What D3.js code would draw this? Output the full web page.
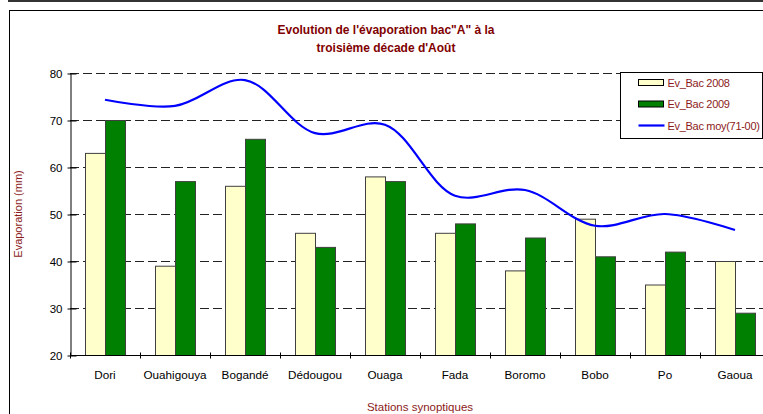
<!DOCTYPE html>
<html>
<head>
<meta charset="utf-8">
<script src="https://cdn.jsdelivr.net/npm/d3@7"></script>
<style>
  body { margin: 0; background: #fff; }
  svg { display: block; font-family: "Liberation Sans", Arial, sans-serif; }
</style>
</head>
<body>
<script>
var stations = ["Dori", "Ouahigouya", "Bogandé", "Dédougou", "Ouaga", "Fada", "Boromo", "Bobo", "Po", "Gaoua"];
var bac2008 = [63, 39, 56, 46, 58, 46, 38, 49, 35, 40];
var bac2009 = [70, 57, 66, 43, 57, 48, 45, 41, 42, 29];
var moy7100 = [74.3, 73.0, 78.5, 67.2, 69.0, 53.9, 55.1, 47.5, 50.0, 46.6];
var yTicks = [20, 30, 40, 50, 60, 70, 80];

var width = 763, height = 414;
var red = "#8b1a1a";

var svg = d3.select("body").append("svg")
    .attr("width", width)
    .attr("height", height);

// bande sombre en haut + cadre du graphique
svg.append("rect").attr("x", 8).attr("y", 0).attr("width", 755).attr("height", 2).attr("fill", "#333");
svg.append("rect").attr("x", 9.5).attr("y", 10.5).attr("width", 800).attr("height", 450)
    .attr("fill", "none").attr("stroke", "#000").attr("stroke-width", 1);

var x = d3.scaleBand()
    .domain(stations)
    .range([70, 770])
    .paddingInner(3 / 7)
    .paddingOuter(1.5 / 7);

var xs = d3.scaleBand().domain(["2008", "2009"]).range([0, x.bandwidth()]);

var y = d3.scaleLinear()
    .domain([20, 80])
    .range([355, 73]);

// grille pointillée
svg.append("g").selectAll("line")
    .data(yTicks.filter(function(d) { return d > 20; }))
    .enter().append("line")
    .attr("x1", 70).attr("x2", 770)
    .attr("y1", function(d) { return y(d) + 0.5; })
    .attr("y2", function(d) { return y(d) + 0.5; })
    .attr("stroke", "#222")
    .attr("stroke-dasharray", "9,4");

// barres
var series = [
  { key: "2008", values: bac2008, fill: "#ffffcc" },
  { key: "2009", values: bac2009, fill: "#008000" }
];
series.forEach(function(s) {
  svg.append("g").selectAll("rect")
      .data(s.values)
      .enter().append("rect")
      .attr("x", function(d, i) { return x(stations[i]) + xs(s.key) + 0.5; })
      .attr("y", function(d) { return y(d) + 0.5; })
      .attr("width", xs.bandwidth())
      .attr("height", function(d) { return y(20) - y(d); })
      .attr("fill", s.fill)
      .attr("stroke", "#404040")
      .attr("stroke-width", 1);
});

// axe Y
var yAxis = d3.axisLeft(y).tickValues(yTicks).tickSize(0).tickPadding(8);
var gy = svg.append("g").attr("transform", "translate(70.5,0.5)").call(yAxis);
gy.select(".domain").attr("stroke", "#000");
gy.selectAll(".tick line").attr("x1", -3).attr("x2", 6).attr("stroke", "#000");
gy.selectAll("text").attr("font-size", 11.5).attr("fill", "#000").attr("font-family", "Liberation Sans, Arial, sans-serif");

// axe X
var gx = svg.append("g").attr("transform", "translate(0,355.5)");
gx.append("line").attr("x1", 70).attr("x2", 770).attr("stroke", "#000");
gx.selectAll(".tk")
    .data(d3.range(stations.length + 1))
    .enter().append("line")
    .attr("x1", function(i) { return 70.5 + i * x.step(); })
    .attr("x2", function(i) { return 70.5 + i * x.step(); })
    .attr("y1", -3).attr("y2", 3)
    .attr("stroke", "#000");
gx.selectAll("text")
    .data(stations)
    .enter().append("text")
    .attr("x", function(d) { return x(d) + x.bandwidth() / 2; })
    .attr("y", 23)
    .attr("text-anchor", "middle")
    .attr("font-size", 11.7)
    .attr("fill", "#000")
    .text(function(d) { return d; });

// courbe moyenne 71-00
var line = d3.line()
    .x(function(d, i) { return x(stations[i]) + x.bandwidth() / 2; })
    .y(function(d) { return y(d); })
    .curve(d3.curveCatmullRom.alpha(0.5));

svg.append("path")
    .attr("d", line(moy7100))
    .attr("fill", "none")
    .attr("stroke", "#0000ff")
    .attr("stroke-width", 2.2);

// titres
svg.append("text").attr("x", 386).attr("y", 34)
    .attr("text-anchor", "middle").attr("font-size", 12).attr("font-weight", "bold").attr("fill", "#800000")
    .text("Evolution de l'évaporation bac\"A\" à la");
svg.append("text").attr("x", 386).attr("y", 52)
    .attr("text-anchor", "middle").attr("font-size", 12).attr("font-weight", "bold").attr("fill", "#800000")
    .text("troisième décade d'Août");

svg.append("text")
    .attr("transform", "translate(22,214) rotate(-90)")
    .attr("text-anchor", "middle").attr("font-size", 11).attr("fill", red)
    .text("Evaporation (mm)");

svg.append("text").attr("x", 420).attr("y", 411)
    .attr("text-anchor", "middle").attr("font-size", 11.5).attr("fill", red)
    .text("Stations synoptiques");

// légende
var lg = svg.append("g").attr("transform", "translate(620.5,72.5)");
lg.append("rect").attr("width", 142).attr("height", 66).attr("fill", "#fff").attr("stroke", "#000");
var items = [
  { label: "Ev_Bac  2008", type: "bar", fill: "#ffffcc" },
  { label: "Ev_Bac  2009", type: "bar", fill: "#008000" },
  { label: "Ev_Bac moy(71-00)", type: "line" }
];
items.forEach(function(it, i) {
  var cy = 10 + i * 21.5;
  if (it.type === "bar") {
    lg.append("rect").attr("x", 18).attr("y", cy - 3).attr("width", 25).attr("height", 6)
        .attr("fill", it.fill).attr("stroke", "#000");
  } else {
    lg.append("line").attr("x1", 18).attr("x2", 44).attr("y1", cy).attr("y2", cy)
        .attr("stroke", "#0000ff").attr("stroke-width", 2.2);
  }
  lg.append("text").attr("x", 47).attr("y", cy + 4)
      .attr("font-size", 11).attr("fill", red).attr("letter-spacing", -0.3)
      .text(it.label);
});
</script>
</body>
</html>
